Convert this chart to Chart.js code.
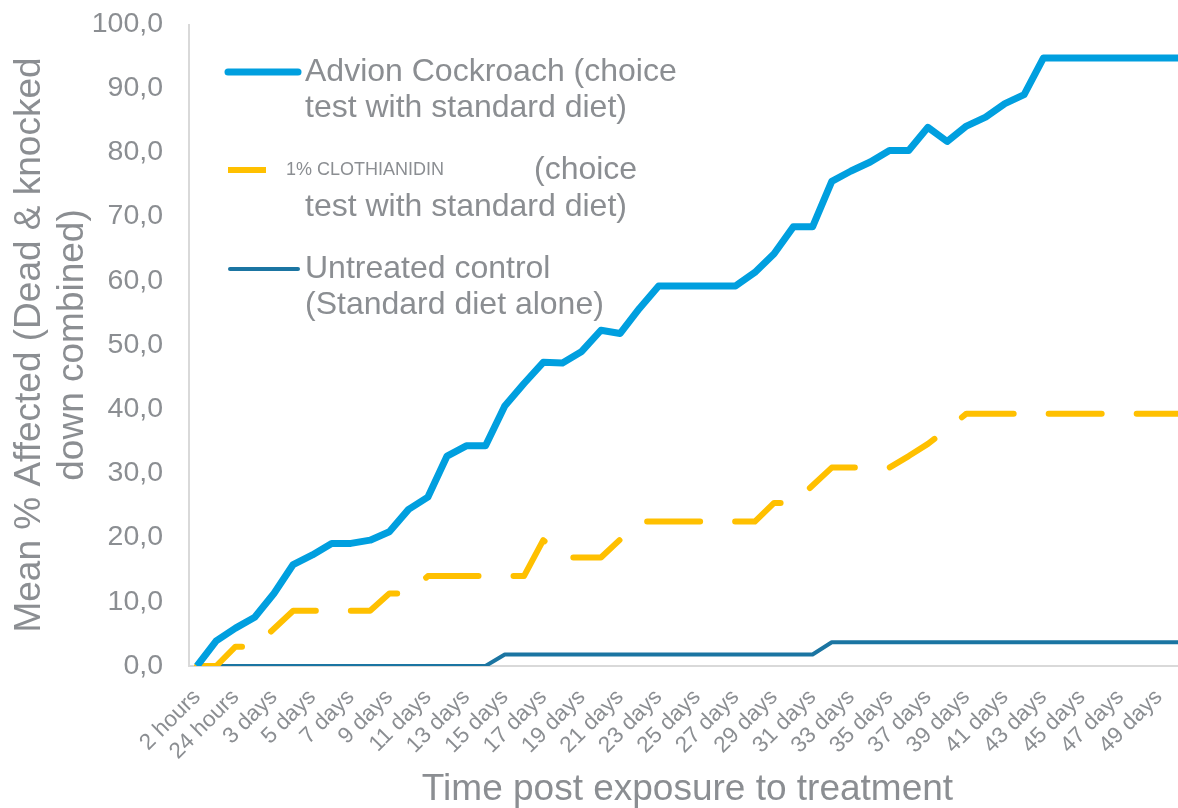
<!DOCTYPE html>
<html lang="en">
  <head>
    <meta charset="UTF-8" />
    <title>Mean % affected over time</title>
    <script src="https://cdn.jsdelivr.net/npm/chart.js"></script>
    <style>
      body {
        margin: 0;
        background: #ffffff;
      }
      #wrap {
        width: 1178px;
        height: 808px;
        position: relative;
      }
    </style>
  </head>
  <body>
    <div id="wrap"><canvas id="chart"></canvas></div>

    <script>
      const timeLabels = [
        "2 hours", "6 hours", "24 hours", "2 days", "3 days", "4 days", "5 days", "6 days",
        "7 days", "8 days", "9 days", "10 days", "11 days", "12 days", "13 days", "14 days",
        "15 days", "16 days", "17 days", "18 days", "19 days", "20 days", "21 days", "22 days",
        "23 days", "24 days", "25 days", "26 days", "27 days", "28 days", "29 days", "30 days",
        "31 days", "32 days", "33 days", "34 days", "35 days", "36 days", "37 days", "38 days",
        "39 days", "40 days", "41 days", "42 days", "43 days", "44 days", "45 days", "46 days",
        "47 days", "48 days", "49 days", "50 days"
      ];

      const advion = [
        0, 3.9, 5.9, 7.6, 11.3, 15.8, 17.3, 19.1, 19.1, 19.6, 20.9, 24.4, 26.3,
        32.7, 34.3, 34.3, 40.5, 44.0, 47.3, 47.2, 49.0, 52.3, 51.8, 55.7, 59.2, 59.2,
        59.2, 59.2, 59.2, 61.3, 64.2, 68.4, 68.4, 75.5, 77.1, 78.5, 80.3, 80.3, 83.9,
        81.7, 84.1, 85.5, 87.6, 89.0, 94.7, 94.7, 94.7, 94.7, 94.7, 94.7, 94.7, 94.7
      ];

      const clothianidin = [
        0, 0, 3.0, 3.0, 5.8, 8.6, 8.6, 8.6, 8.6, 8.6, 11.3, 11.3, 14.0,
        14.0, 14.0, 14.0, 14.0, 14.0, 19.6, 16.9, 16.9, 16.9, 19.7, 22.5, 22.5, 22.5,
        22.5, 22.5, 22.5, 22.5, 25.4, 25.4, 28.1, 30.9, 30.9, 30.9, 30.9, 32.7, 34.6,
        36.9, 39.3, 39.3, 39.3, 39.3, 39.3, 39.3, 39.3, 39.3, 39.3, 39.3, 39.3, 39.3
      ];

      const untreated = [
        0, 0, 0, 0, 0, 0, 0, 0, 0, 0, 0, 0, 0,
        0, 0, 0, 1.8, 1.8, 1.8, 1.8, 1.8, 1.8, 1.8, 1.8, 1.8, 1.8,
        1.8, 1.8, 1.8, 1.8, 1.8, 1.8, 1.8, 3.7, 3.7, 3.7, 3.7, 3.7, 3.7,
        3.7, 3.7, 3.7, 3.7, 3.7, 3.7, 3.7, 3.7, 3.7, 3.7, 3.7, 3.7, 3.7
      ];

      const grey = "#8b8e92";
      const axisGrey = "#d9d9d9";
      const fontFamily = "'Liberation Sans', Arial, sans-serif";

      // axis lines sit a few px left of the first point, like the original
      const axisLines = {
        id: "axisLines",
        beforeDatasetsDraw(chart) {
          const { ctx, chartArea } = chart;
          const x0 = chartArea.left - 8;
          ctx.save();
          ctx.strokeStyle = axisGrey;
          ctx.lineWidth = 2;
          ctx.beginPath();
          ctx.moveTo(x0, chartArea.top);
          ctx.lineTo(x0, chartArea.bottom);
          ctx.lineTo(chartArea.right + 2, chartArea.bottom);
          ctx.stroke();
          ctx.restore();
        },
      };

      // legend with wrapped entries, drawn inside the plot
      const wrappedLegend = {
        id: "wrappedLegend",
        afterDatasetsDraw(chart) {
          const { ctx, chartArea } = chart;
          const x = chartArea.left + 31;
          const tx = chartArea.left + 108;
          const top = chartArea.top;
          const big = "32px " + fontFamily;
          ctx.save();
          ctx.lineCap = "round";
          ctx.textBaseline = "middle";
          ctx.fillStyle = grey;

          ctx.strokeStyle = "#009fdf";
          ctx.lineWidth = 7;
          ctx.beginPath();
          ctx.moveTo(x, top + 48);
          ctx.lineTo(x + 70, top + 48);
          ctx.stroke();
          ctx.font = big;
          ctx.fillText("Advion Cockroach (choice", tx, top + 48);
          ctx.fillText("test with standard diet)", tx, top + 84);

          ctx.strokeStyle = "#ffc000";
          ctx.lineWidth = 6;
          ctx.lineCap = "butt";
          ctx.beginPath();
          ctx.moveTo(x, top + 146);
          ctx.lineTo(x + 38, top + 146);
          ctx.stroke();
          ctx.font = "18px " + fontFamily;
          ctx.fillText("1% CLOTHIANIDIN", chartArea.left + 89, top + 146);
          ctx.font = big;
          ctx.fillText("(choice", chartArea.left + 337, top + 146);
          ctx.fillText("test with standard diet)", tx, top + 183);

          ctx.strokeStyle = "#1b75a2";
          ctx.lineWidth = 4;
          ctx.lineCap = "round";
          ctx.beginPath();
          ctx.moveTo(x + 2, top + 245);
          ctx.lineTo(x + 70, top + 245);
          ctx.stroke();
          ctx.fillText("Untreated control", tx, top + 245);
          ctx.fillText("(Standard diet alone)", tx, top + 281);
          ctx.restore();
        },
      };

      new Chart(document.getElementById("chart"), {
        type: "line",
        data: {
          labels: timeLabels,
          datasets: [
            {
              label: "Untreated control (Standard diet alone)",
              data: untreated,
              borderColor: "#1b75a2",
              borderWidth: 4,
              order: 3,
            },
            {
              label: "1% CLOTHIANIDIN (choice test with standard diet)",
              data: clothianidin,
              borderColor: "#ffc000",
              borderWidth: 6,
              borderDash: [53, 35],
              borderCapStyle: "round",
              order: 2,
            },
            {
              label: "Advion Cockroach (choice test with standard diet)",
              data: advion,
              borderColor: "#009fdf",
              borderWidth: 7,
              order: 1,
            },
          ],
        },
        options: {
          responsive: true,
          maintainAspectRatio: false,
          animation: false,
          layout: { padding: { left: 0, top: 24, right: 0, bottom: 0 } },
          elements: {
            point: { radius: 0 },
            line: { tension: 0, borderJoinStyle: "round", fill: false },
          },
          plugins: {
            legend: { display: false },
            tooltip: { enabled: false },
          },
          scales: {
            x: {
              offset: false,
              grid: { display: false, drawTicks: false },
              border: { display: false },
              afterFit(scale) {
                scale.paddingLeft = 0;
                scale.paddingRight = 0;
                scale.height = 142;
              },
              ticks: {
                autoSkip: false,
                maxRotation: 45,
                minRotation: 45,
                padding: 18,
                color: grey,
                font: { family: fontFamily, size: 22.5 },
                callback(value, index) {
                  return index % 2 === 0 ? timeLabels[index] : "";
                },
              },
              title: {
                display: true,
                text: "Time post exposure to treatment",
                color: grey,
                font: { family: fontFamily, size: 37, lineHeight: 1.0 },
                padding: { top: 0, bottom: 0 },
              },
            },
            y: {
              min: 0,
              max: 100,
              grid: { display: false, drawTicks: false },
              border: { display: false },
              afterFit(scale) {
                scale.width = 197;
                scale.paddingTop = 0;
                scale.paddingBottom = 0;
              },
              ticks: {
                stepSize: 10,
                padding: 34,
                color: grey,
                font: { family: fontFamily, size: 28.5 },
                callback: (v) => v.toFixed(1).replace(".", ","),
              },
              title: {
                display: true,
                text: ["Mean % Affected (Dead & knocked", "down combined)"],
                color: grey,
                font: { family: fontFamily, size: 37, lineHeight: 1.17 },
                padding: { top: 8, bottom: 0 },
              },
            },
          },
        },
        plugins: [axisLines, wrappedLegend],
      });
    </script>
  </body>
</html>
